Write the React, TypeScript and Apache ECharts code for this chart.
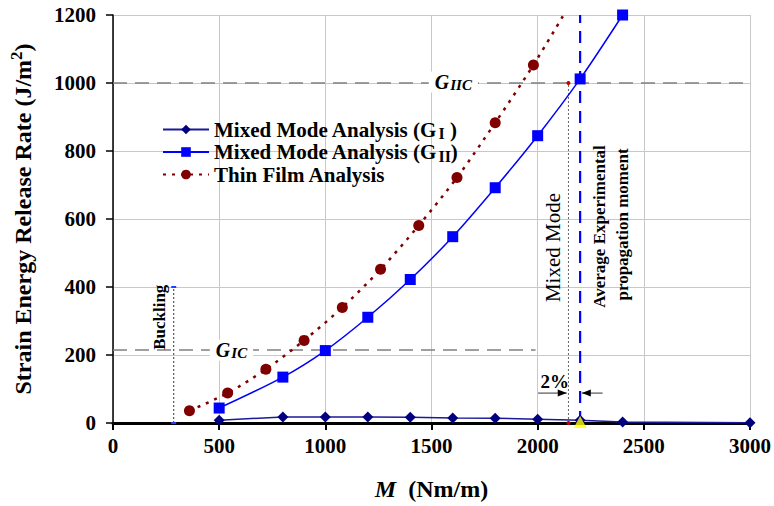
import React, { useEffect, useRef } from "react";
import * as echarts from "echarts";

// ---- data ----
const M_GI = [500, 800, 1000, 1200, 1400, 1600, 1800, 2000, 2200, 2400, 3000];
const G_I = [8, 18, 18, 18, 17, 15, 14, 11, 8, 3, 1];
const M_GII = [500, 800, 1000, 1200, 1400, 1600, 1800, 2000, 2200, 2400];
const G_II = [44, 135, 213, 311, 422, 548, 692, 845, 1012, 1200];
const M_TF = [360, 540, 720, 900, 1080, 1260, 1440, 1620, 1800, 1980, 2160];
const G_TF = [36, 88, 158, 243, 340, 452, 581, 722, 883, 1053, 1240];

const X_MIN = 0, X_MAX = 3000, X_STEP = 500;
const Y_MIN = 0, Y_MAX = 1200, Y_STEP = 200;

const G_IC = 215;
const G_IC_END = 1990;
const G_IIC = 1000;
const BUCKLING_M = 286;
const BUCKLING_TOP = 400;
const MIXED_M = 2145;
const EXP_M = 2200;

const LEGEND_NAMES = ["GI", "GII", "TF"];
const LEGEND_LABELS: Record<string, string> = {
  GI: "Mixed Mode Analysis (G{sub|I} )",
  GII: "Mixed Mode Analysis (G{sub|II})",
  TF: "Thin Film Analysis",
};

const FONT = "Liberation Serif";

const zip = (xs: number[], ys: number[]) => xs.map((x, i) => [x, ys[i]]);

export default function App() {
  const ref = useRef<HTMLDivElement>(null);

  useEffect(() => {
    if (!ref.current) return;
    const chart = echarts.init(ref.current, undefined, { renderer: "svg" });

    const tfData: any[] = zip(M_TF, G_TF).map((p, i) =>
      i === M_TF.length - 1 ? { value: p, symbol: "none" } : p
    );

    chart.setOption({
      animation: false,
      backgroundColor: "#ffffff",
      grid: { left: 113, right: 22, top: 15, bottom: 82, containLabel: false },
      legend: {
        data: LEGEND_NAMES,
        orient: "vertical",
        left: 157,
        top: 114,
        itemWidth: 46,
        itemHeight: 12,
        itemGap: 0,
        formatter: (n: string) => LEGEND_LABELS[n] || n,
        textStyle: {
          fontFamily: FONT,
          fontWeight: "bold",
          fontSize: 21,
          color: "#000",
          rich: {
            sub: {
              fontFamily: FONT,
              fontWeight: "bold",
              fontSize: 16,
              color: "#000",
              padding: [8, 0, 0, 1],
            },
          },
        },
      },
      xAxis: {
        type: "value",
        min: X_MIN,
        max: X_MAX,
        interval: X_STEP,
        name: "{i|M}  (Nm/m)",
        nameLocation: "middle",
        nameGap: 54,
        nameTextStyle: {
          fontFamily: FONT,
          fontWeight: "bold",
          fontSize: 24,
          color: "#000",
          rich: {
            i: { fontFamily: FONT, fontWeight: "bold", fontStyle: "italic", fontSize: 24, color: "#000" },
          },
        },
        axisLine: { show: true, onZero: false, lineStyle: { color: "#000", width: 3 } },
        axisTick: { show: true, length: 7, lineStyle: { color: "#000", width: 2 } },
        axisLabel: {
          fontFamily: FONT,
          fontWeight: "bold",
          fontSize: 21,
          color: "#000",
          margin: 12,
          formatter: (v: number) => String(v),
        },
        splitLine: { show: true, lineStyle: { color: "#c8c8c8", width: 1 } },
      },
      yAxis: {
        type: "value",
        min: Y_MIN,
        max: Y_MAX,
        interval: Y_STEP,
        name: "Strain Energy Release Rate (J/m{sup|2})",
        nameLocation: "middle",
        nameGap: 76,
        nameTextStyle: {
          fontFamily: FONT,
          fontWeight: "bold",
          fontSize: 24,
          color: "#000",
          rich: {
            sup: { fontFamily: FONT, fontWeight: "bold", fontSize: 17, color: "#000", padding: [0, 0, 12, 0] },
          },
        },
        axisLine: { show: true, lineStyle: { color: "#000", width: 1.5 } },
        axisTick: { show: true, length: 7, lineStyle: { color: "#000", width: 1.5 } },
        axisLabel: {
          fontFamily: FONT,
          fontWeight: "bold",
          fontSize: 21,
          color: "#000",
          margin: 17,
          formatter: (v: number) => String(v),
        },
        splitLine: { show: true, lineStyle: { color: "#c8c8c8", width: 1 } },
      },
      series: [
        {
          name: "GIC-line",
          type: "line",
          silent: true,
          symbol: "none",
          data: [[X_MIN, G_IC], [G_IC_END, G_IC]],
          lineStyle: { color: "#808080", width: 1.5, type: [14, 8] },
          z: 2,
        },
        {
          name: "GIIC-line",
          type: "line",
          silent: true,
          symbol: "none",
          data: [[X_MIN, G_IIC], [X_MAX, G_IIC]],
          lineStyle: { color: "#808080", width: 1.5, type: [14, 8] },
          z: 2,
        },
        {
          name: "Buckling-line",
          type: "line",
          silent: true,
          symbol: "rect",
          symbolSize: [5, 2],
          itemStyle: { color: "#2040ff" },
          data: [[BUCKLING_M, Y_MIN], [BUCKLING_M, BUCKLING_TOP]],
          lineStyle: { color: "#333", width: 1, type: [2, 2] },
          z: 2,
        },
        {
          name: "Mixed-line",
          type: "line",
          silent: true,
          symbol: "circle",
          symbolSize: 4,
          itemStyle: { color: "#c00000" },
          data: [[MIXED_M, Y_MIN], [MIXED_M, G_IIC]],
          lineStyle: { color: "#666", width: 1, type: [2, 2] },
          z: 3,
        },
        {
          name: "Exp-line",
          type: "line",
          silent: true,
          symbol: "none",
          data: [[EXP_M, Y_MIN], [EXP_M, Y_MAX]],
          lineStyle: { color: "#0000ff", width: 2.2, type: [12, 8] },
          z: 3,
        },
        {
          name: "GI",
          type: "line",
          data: zip(M_GI, G_I),
          symbol: "diamond",
          symbolSize: 11,
          itemStyle: { color: "#000080" },
          lineStyle: { color: "#1a1a9a", width: 1.5 },
          z: 6,
        },
        {
          name: "GII",
          type: "line",
          data: zip(M_GII, G_II),
          smooth: 0.3,
          symbol: "rect",
          symbolSize: 11,
          itemStyle: { color: "#0000ff" },
          lineStyle: { color: "#0000ff", width: 1.5 },
          z: 5,
        },
        {
          name: "TF",
          type: "line",
          data: tfData,
          smooth: 0.3,
          clip: true,
          symbol: "circle",
          symbolSize: 11,
          itemStyle: { color: "#800000" },
          lineStyle: { color: "#800000", width: 2.5, type: [3, 6] },
          z: 4,
        },
        {
          name: "Exp-marker",
          type: "scatter",
          silent: true,
          clip: false,
          data: [[EXP_M, Y_MIN]],
          symbol: "triangle",
          symbolSize: [13, 12],
          symbolOffset: [0, -1],
          itemStyle: { color: "#ffff00" },
          z: 7,
        },
      ],
    });

    const px = (x: number, y: number) => chart.convertToPixel({ gridIndex: 0 }, [x, y]) as number[];

    const pBuck = px(220, 311);
    const pGic = px(558, 214);
    const pGiic = px(1603, 1003);
    const pMixed = px(2072, 516);
    const pAvg = px(2292, 578);
    const pProp = px(2400, 584);
    const pPct = px(2081, 123);
    const a1s = px(2002, 88);
    const a1e = px(MIXED_M - 8, 88);
    const a2s = px(2306, 88);
    const a2e = px(EXP_M + 8, 88);

    const vText = (p: number[], text: string, size: number, weight: string) => ({
      type: "text",
      x: p[0],
      y: p[1],
      rotation: Math.PI / 2,
      silent: true,
      z: 20,
      style: {
        text,
        fill: "#000",
        fontFamily: FONT,
        fontSize: size,
        fontWeight: weight,
        align: "center",
        verticalAlign: "middle",
      },
    });

    const gLabel = (p: number[], sub: string) => ({
      type: "text",
      x: p[0],
      y: p[1],
      silent: true,
      z: 20,
      style: {
        text: `{g|G}{s|${sub}}`,
        align: "center",
        verticalAlign: "middle",
        backgroundColor: "#ffffff",
        padding: [0, 6, 0, 6],
        rich: {
          g: { fontFamily: FONT, fontStyle: "italic", fontWeight: "bold", fontSize: 20, fill: "#000" },
          s: { fontFamily: FONT, fontStyle: "italic", fontWeight: "bold", fontSize: 15, fill: "#000", padding: [6, 0, 0, 1] },
        },
      },
    });

    const arrowHead = (tip: number[], dir: number) => ({
      type: "polygon",
      silent: true,
      z: 20,
      shape: {
        points: [
          [tip[0], tip[1]],
          [tip[0] - dir * 9, tip[1] - 3.5],
          [tip[0] - dir * 9, tip[1] + 3.5],
        ],
      },
      style: { fill: "#000" },
    });

    chart.setOption({
      graphic: [
        vText(pBuck, "Buckling", 17, "bold"),
        gLabel(pGic, "IC"),
        gLabel(pGiic, "IIC"),
        vText(pMixed, "Mixed Mode", 21, "normal"),
        vText(pAvg, "Average Experimental", 17, "bold"),
        vText(pProp, "propagation moment", 17, "bold"),
        {
          type: "text",
          x: pPct[0],
          y: pPct[1],
          silent: true,
          z: 20,
          style: {
            text: "2%",
            fill: "#000",
            fontFamily: FONT,
            fontSize: 19,
            fontWeight: "bold",
            align: "center",
            verticalAlign: "middle",
          },
        },
        {
          type: "line",
          silent: true,
          z: 20,
          shape: { x1: a1s[0], y1: a1s[1], x2: a1e[0], y2: a1e[1] },
          style: { stroke: "#333", lineWidth: 1 },
        },
        arrowHead(a1e, 1),
        {
          type: "line",
          silent: true,
          z: 20,
          shape: { x1: a2s[0], y1: a2s[1], x2: a2e[0], y2: a2e[1] },
          style: { stroke: "#333", lineWidth: 1 },
        },
        arrowHead(a2e, -1),
      ],
    });

    return () => chart.dispose();
  }, []);

  return <div ref={ref} style={{ width: 774, height: 506, position: "absolute", left: 0, top: 0 }} />;
}
